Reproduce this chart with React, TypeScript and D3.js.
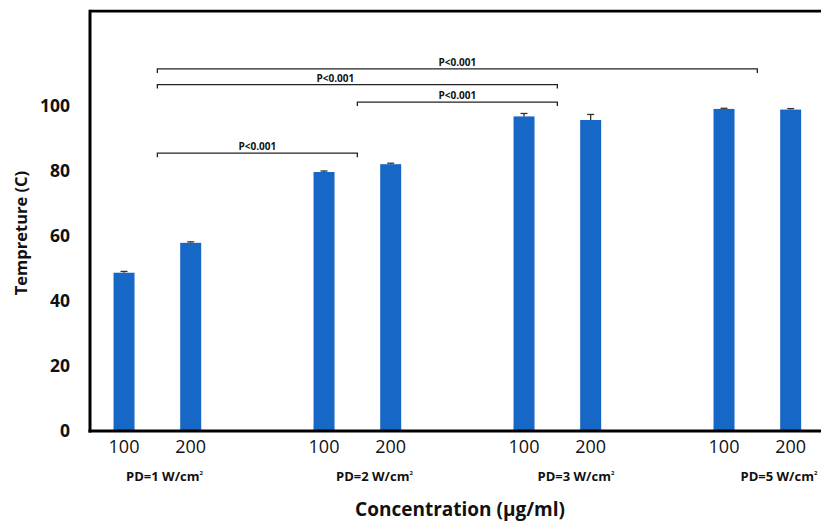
import * as d3 from 'd3';

// concentration (µg/ml) under each bar, grouped by power density
const concentrations = ['100', '200', '100', '200', '100', '200', '100', '200'];
const groupLabels = ['PD=1 W/cm', 'PD=2 W/cm', 'PD=3 W/cm', 'PD=5 W/cm'];
const temperatures = [48.7, 57.9, 79.7, 82.1, 96.8, 95.7, 99.1, 98.9];
const errors = [0.4, 0.3, 0.3, 0.3, 0.9, 1.7, 0.2, 0.3];
const yTicks = [0, 20, 40, 60, 80, 100];

// significance brackets: from group center to group center, at a level (°C)
const brackets = [
  { from: 0, to: 3, level: 111.4, label: 'P<0.001', dx: 0 },
  { from: 0, to: 2, level: 106.6, label: 'P<0.001', dx: -22 },
  { from: 1, to: 2, level: 101.2, label: 'P<0.001', dx: 0 },
  { from: 0, to: 1, level: 85.5, label: 'P<0.001', dx: 0 },
];

const W = 821;
const H = 524;
const FONT = "'Open Sans', 'DejaVu Sans', sans-serif";
const BLUE = '#1767c6';
// group labels are hand-placed text boxes, a bit right of the first bar
const groupLabelShift = [2, 12, 13.5, 16.5];

export default function App() {
  const slotCount = groupLabels.length * 3 - 1;
  const x = d3.scaleBand<number>()
    .domain(d3.range(slotCount))
    .range([90.7, 824])
    .paddingInner(0.685)
    .paddingOuter(0.3425);
  const y = d3.scaleLinear().domain([0, 100]).range([431, 106]);
  const yTop = y(129.2);

  const slot = (i: number) => Math.floor(i / 2) * 3 + (i % 2);
  const bw = x.bandwidth();
  const barCenter = (i: number) => (x(slot(i)) as number) + bw / 2;
  const groupCenter = (g: number) => (barCenter(g * 2) + barCenter(g * 2 + 1)) / 2;

  return (
    <svg width={W} height={H} style={{ position: 'absolute', left: 0, top: 0, background: '#fff' }}>
      {/* bars */}
      {temperatures.map((v, i) => (
        <rect key={'b' + i} x={x(slot(i))} y={y(v)} width={bw} height={y(0) - y(v)} fill={BLUE} />
      ))}
      {/* error bars */}
      {temperatures.map((v, i) => {
        const cx = barCenter(i);
        return (
          <g key={'e' + i} stroke="#333" strokeWidth={1.3}>
            <line x1={cx} x2={cx} y1={y(v)} y2={y(v + errors[i])} />
            <line x1={cx - 3.5} x2={cx + 3.5} y1={y(v + errors[i])} y2={y(v + errors[i])} />
          </g>
        );
      })}

      {/* frame */}
      <line x1={90} x2={W} y1={yTop} y2={yTop} stroke="#000" strokeWidth={2.6} />
      <line x1={90} x2={90} y1={yTop - 1.3} y2={y(0) + 1.5} stroke="#000" strokeWidth={3} />
      <line x1={88.5} x2={W} y1={y(0)} y2={y(0)} stroke="#000" strokeWidth={3} />

      {/* y ticks */}
      {yTicks.map(t => (
        <text key={'y' + t} x={70} y={y(t)} dy="0.36em" textAnchor="end"
          fontFamily={FONT} fontWeight={700} fontSize={17.5} fill="#111">{t}</text>
      ))}
      <text transform={`translate(27,${233}) rotate(-90)`} textAnchor="middle"
        fontFamily={FONT} fontWeight={700} fontSize={16.5} fill="#111">Tempreture (C)</text>

      {/* x ticks */}
      {concentrations.map((c, i) => (
        <text key={'x' + i} x={barCenter(i)} y={453} textAnchor="middle"
          fontFamily={FONT} fontSize={18} fill="#111">{c}</text>
      ))}
      {groupLabels.map((g, gi) => (
        <text key={'g' + gi} x={barCenter(gi * 2) + groupLabelShift[gi]} y={481}
          fontFamily={FONT} fontWeight={700} fontSize={13} fill="#111">
          {g}<tspan fontSize={6} dy={-6}>2</tspan>
        </text>
      ))}
      <text x={460} y={516} textAnchor="middle" fontFamily={FONT} fontWeight={700}
        fontSize={19} fill="#111">Concentration (µg/ml)</text>

      {/* significance brackets */}
      {brackets.map((b, i) => {
        const x1 = groupCenter(b.from);
        const x2 = groupCenter(b.to);
        const by = y(b.level);
        return (
          <g key={'s' + i}>
            <path d={`M${x1},${by + 4}V${by}H${x2}V${by + 4}`} fill="none" stroke="#222" strokeWidth={1.3} />
            <text x={(x1 + x2) / 2 + b.dx} y={by - 3} textAnchor="middle"
              fontFamily={FONT} fontWeight={700} fontSize={10} fill="#111">{b.label}</text>
          </g>
        );
      })}
    </svg>
  );
}
